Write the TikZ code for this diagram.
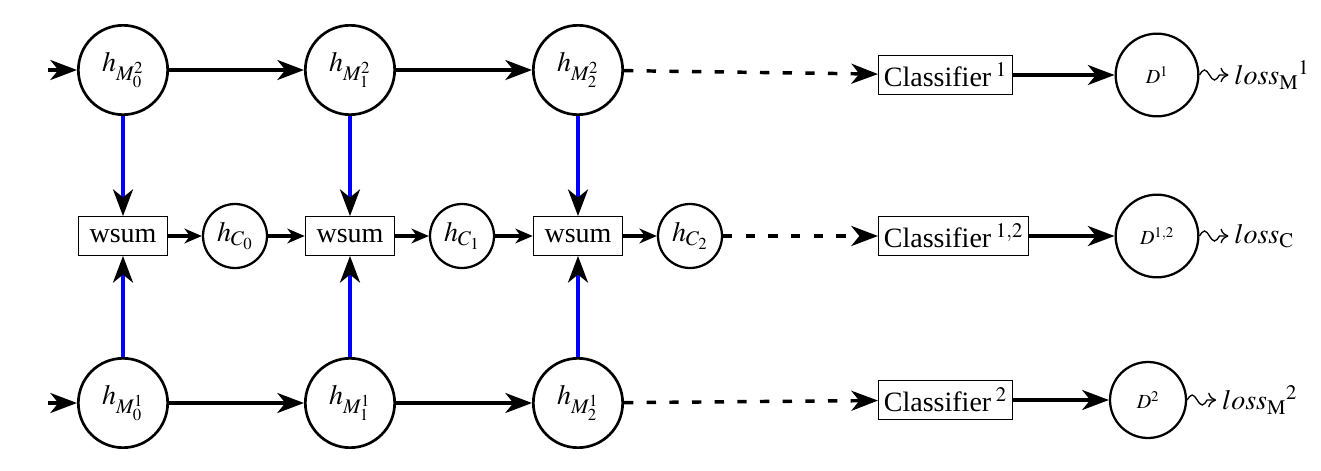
\documentclass[tikz,border=0pt]{standalone}
\usepackage{mathptmx}
\usepackage[no-math]{fontspec}
\setmainfont{Liberation Serif}
\usetikzlibrary{arrows.meta,decorations.pathmorphing}
\begin{document}
\begin{tikzpicture}[x=0.75pt,y=-0.75pt,
  every node/.style={font=\fontsize{21}{24}\selectfont},
  hc/.style={circle,draw,line width=2pt,minimum size=67pt,inner sep=0pt},
  sc/.style={circle,draw,line width=1.7pt,minimum size=48pt,inner sep=0pt},
  dc/.style={circle,draw,line width=1.7pt,minimum size=62pt,inner sep=0pt},
  bx/.style={draw,line width=0.9pt,minimum height=29pt,inner sep=4pt},
  ar/.style={line width=2.6pt,-{Stealth[length=20pt,width=15pt,inset=6pt]}},
  sar/.style={line width=2.6pt,-{Stealth[length=13pt,width=11pt,inset=4pt]}},
  bar/.style={ar,blue,-{Stealth[length=20pt,width=15pt,inset=6pt,black]}},
  dar/.style={ar,dash pattern=on 7pt off 10pt},
  sq/.style={line width=1pt,-{To[length=6pt,width=11pt]}}]
\useasboundingbox (0,0) rectangle (1321,471);
\foreach \i/\x in {0/123,1/350,2/578}{
  \node[hc] (t\i) at (\x,70) {$h_{M^2_{\i}}$};
  \node[hc] (b\i) at (\x,403) {$h_{M^1_{\i}}$};
  \node[bx,minimum width=67pt] (w\i) at (\x,236) {wsum};
  \node[sc] (c\i) at (\x+112,236) {$h_{C_{\i}}$};
  \draw[bar] (t\i) -- (w\i);
  \draw[bar] (b\i) -- (w\i);
  \draw[sar] (w\i) -- (c\i);
}
\draw[sar] (c0) -- (w1);
\draw[sar] (c1) -- (w2);
\coordinate (it) at (48,70);
\coordinate (ib) at (48,403);
\draw[ar] (it) -- (t0);
\draw[ar] (ib) -- (b0);
\draw[ar] (t0) -- (t1); \draw[ar] (t1) -- (t2);
\draw[ar] (b0) -- (b1); \draw[ar] (b1) -- (b2);
\node[bx,anchor=west] (k1) at (878,75) {Classifier\,$^{1}$};
\node[bx,anchor=west] (k12) at (878,236) {Classifier\,$^{1,2}$};
\node[bx,anchor=west] (k2) at (878,400) {Classifier\,$^{2}$};
\draw[dar] (t2) -- (k1);
\draw[dar] (c2) -- (k12);
\draw[dar] (b2) -- (k2);
\node[dc] (d1) at (1157,75) {\fontsize{15}{17}\selectfont$D^1$};
\node[dc] (d12) at (1157,236) {\fontsize{15}{17}\selectfont$D^{1,2}$};
\node[sc,minimum size=57pt] (d2) at (1148,400) {\fontsize{15}{17}\selectfont$D^2$};
\draw[ar] (k1) -- (d1);
\draw[ar] (k12) -- (d12);
\draw[ar] (k2) -- (d2);
\foreach \n/\l in {d1/{loss_{\mathrm{M}}{}^{1}},d12/{loss_{\mathrm{C}}},d2/{loss_{\mathrm{M}}{}^{2}}}{
  \draw[sq] (\n.east) sin ++(5,-5) cos ++(5,5) sin ++(5,5) cos ++(5,-5) -- ++(9,0);
  \node[anchor=west,inner sep=0pt] at ([xshift=26pt]\n.east) {$\l$};
}
\end{tikzpicture}
\end{document}
